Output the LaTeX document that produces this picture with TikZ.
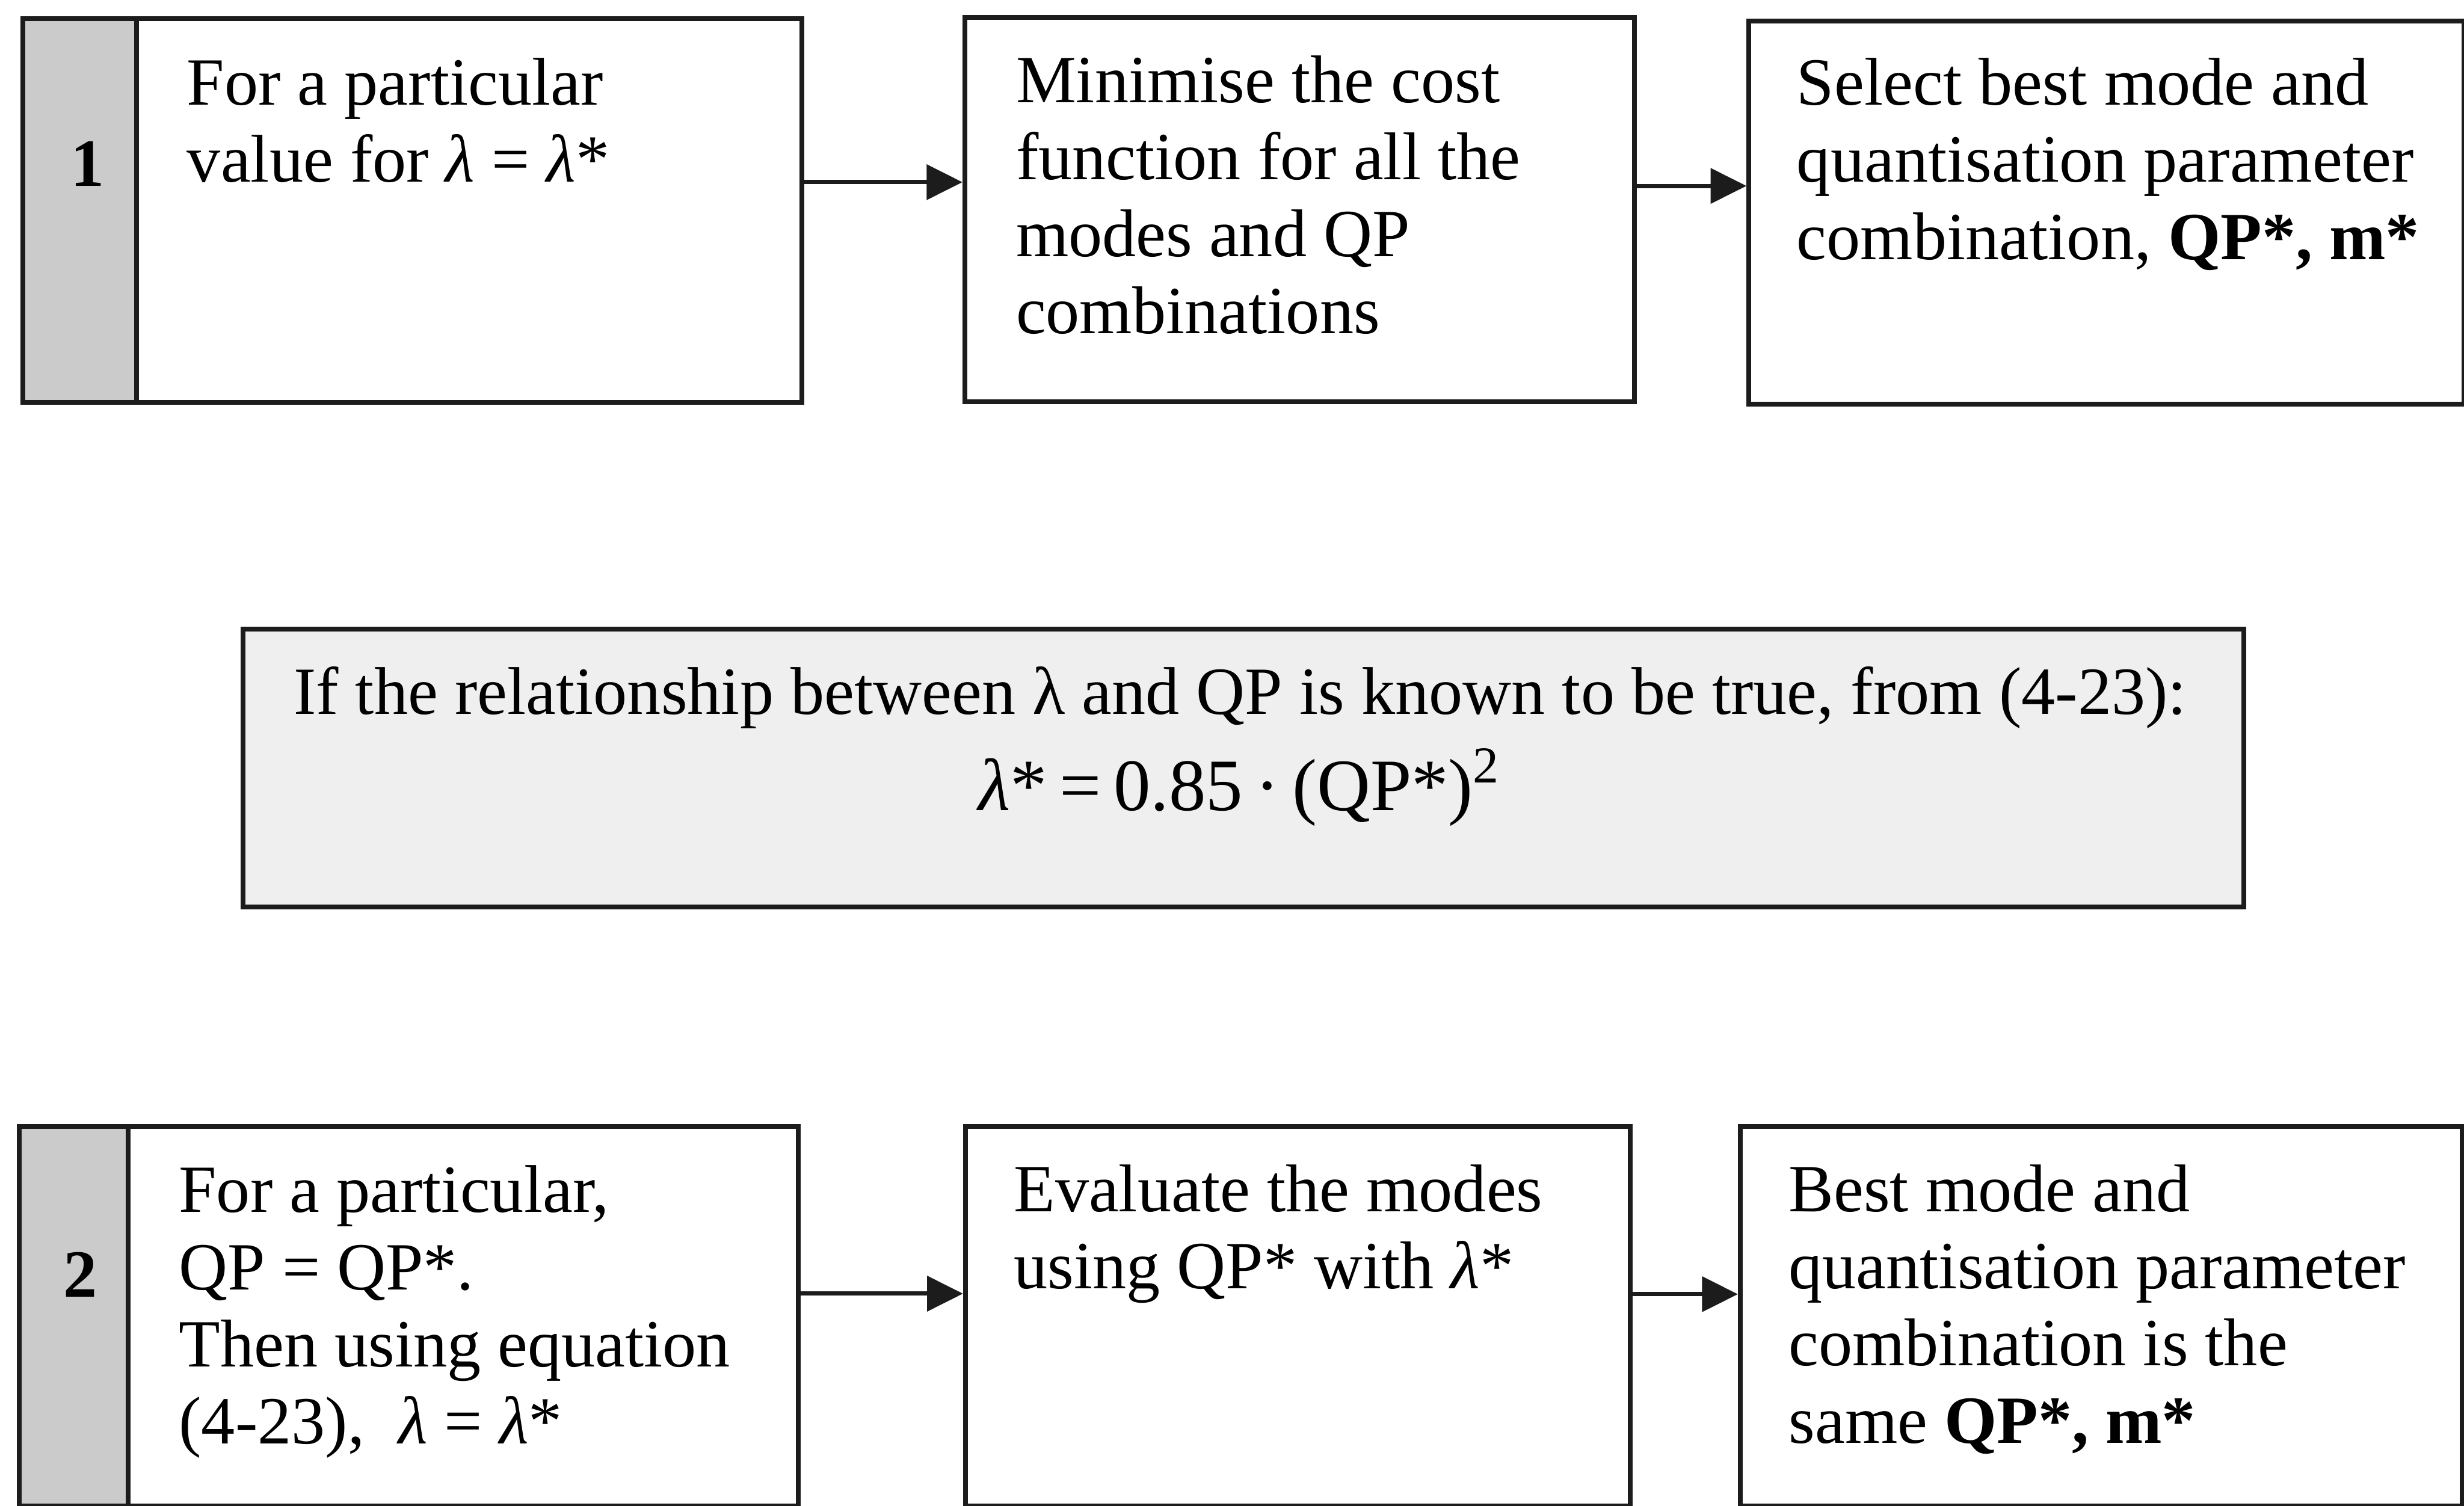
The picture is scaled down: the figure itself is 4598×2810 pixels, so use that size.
\documentclass[tikz,border=0pt]{standalone}
\usepackage{fontspec}
\setmainfont{Liberation Serif}
\usetikzlibrary{arrows.meta}

\definecolor{stripgray}{RGB}{203,203,203}
\definecolor{notefill}{RGB}{239,239,239}
\definecolor{ink}{RGB}{28,28,28}

% body font of the chart
\newcommand{\chartfont}{\fontsize{12.6pt}{14.4pt}\selectfont}

\tikzset{
  box/.style={draw=ink, line width=0.9pt, rectangle, inner sep=0pt, anchor=north west},
  numstrip/.style={box, fill=stripgray},
  notebox/.style={box, fill=notefill},
  boxtext/.style={inner sep=0pt, anchor=base west, text width=140pt, align=flush left,
    font=\chartfont},
  stepnum/.style={inner sep=0pt, anchor=base, font=\chartfont\bfseries},
  arr/.style={draw=ink, line width=0.8pt, -{Triangle[length=6.7pt,width=6.5pt]}},
}

\newcommand{\lam}{\textit{λ}}

\begin{document}
\begin{tikzpicture}[x=0.1pt, y=-0.1pt]
  \useasboundingbox (0,0) rectangle (4598,2810);

  % ---------- route 1 ----------
  \node[box, minimum width=145.4pt, minimum height=71.7pt] (A) at (38,30) {};
  \node[numstrip, minimum width=21.2pt, minimum height=71.7pt] (Astrip) at (38,30) {};
  \node[stepnum] (n1) at (163,347) {1};
  \node[boxtext] (tA) at (347,196) {For a particular\\ value for \lam{} = \lam*};

  \node[box, minimum width=125pt, minimum height=71.7pt] (B) at (1796,28) {};
  \node[boxtext] (tB) at (1894,191) {Minimise the cost\\ function for all the\\ modes and QP\\ combinations};

  \node[box, minimum width=133.4pt, minimum height=71.5pt] (C) at (3259,35) {};
  \node[boxtext] (tC) at (3351,196) {Select best mode and\\ quantisation parameter\\ combination, \textbf{QP*, m*}};

  \draw[arr] ([yshift=5.3pt]A.east) -- ([yshift=5.3pt]A.east -| B.west);
  \draw[arr] ([yshift=4.4pt]B.east) -- ([yshift=4.4pt]B.east -| C.west);

  % ---------- relationship between lambda and QP ----------
  \node[notebox, minimum width=373.4pt, minimum height=51.8pt] (M) at (449,1170) {};
  \node[inner sep=0pt, anchor=base, text width=370pt, align=flush center,
        font=\chartfont] (tM) at (2314,1333)
    {If the relationship between λ and QP is known to be true, from (4-23):\\[3.6pt]
     {\fontsize{13.8pt}{14.4pt}\selectfont \lam*\,=\,0.85\,·\,(QP*)\textsuperscript{2}}};

  % ---------- route 2 ----------
  \node[box, minimum width=145.4pt, minimum height=70.8pt] (D) at (31,2098) {};
  \node[numstrip, minimum width=20.4pt, minimum height=70.8pt] (Dstrip) at (31,2098) {};
  \node[stepnum] (n2) at (150,2421) {2};
  \node[boxtext] (tD) at (332,2263) {For a particular,\\ QP = QP*.\\ Then using equation\\ (4-23),\ \ \lam{} = \lam*};

  \node[box, minimum width=124.1pt, minimum height=70.8pt] (E) at (1797,2098) {};
  \node[boxtext] (tE) at (1890,2261) {Evaluate the modes\\ using QP* with \lam*};

  \node[box, minimum width=134.7pt, minimum height=70.8pt] (F) at (3243,2098) {};
  \node[boxtext] (tF) at (3336,2261) {Best mode and\\ quantisation parameter\\ combination is the\\ same \textbf{QP*, m*}};

  \draw[arr] ([yshift=4.2pt]D.east) -- ([yshift=4.2pt]D.east -| E.west);
  \draw[arr] ([yshift=4.1pt]E.east) -- ([yshift=4.1pt]E.east -| F.west);
\end{tikzpicture}
\end{document}
